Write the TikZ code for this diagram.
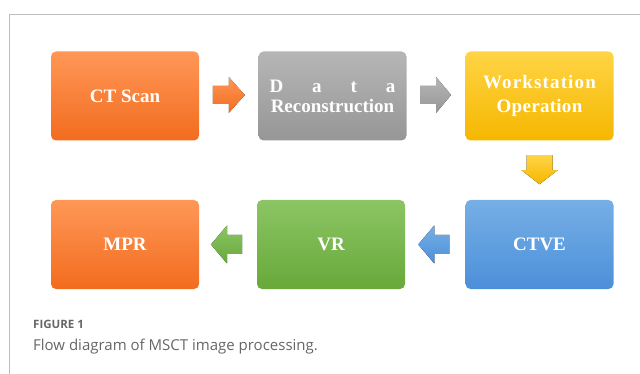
\documentclass[tikz,border=0pt]{standalone}
\usepackage{fontspec}
\setmainfont{Liberation Serif}
\newfontfamily\capfont{Open Sans}
\usetikzlibrary{calc}
\definecolor{frameC}{HTML}{BDBDBD}
\definecolor{orT}{HTML}{FF9757}
\definecolor{orB}{HTML}{F26C1E}
\definecolor{grT}{HTML}{B6B6B6}
\definecolor{grB}{HTML}{969696}
\definecolor{yeT}{HTML}{FFD445}
\definecolor{yeB}{HTML}{F5B700}
\definecolor{blT}{HTML}{76AFE6}
\definecolor{blB}{HTML}{4C8FD9}
\definecolor{gnT}{HTML}{8CC564}
\definecolor{gnB}{HTML}{68A93A}
\definecolor{capC}{HTML}{666666}
\tikzset{
  box/.style={rounded corners=5pt, minimum width=148pt, minimum height=89pt, inner sep=0pt,
    text=white, align=center, font=\fontsize{19}{24}\selectfont\bfseries},
  orfill/.style={top color=orT, bottom color=orB},
  grfill/.style={top color=grT, bottom color=grB},
  yefill/.style={top color=yeT, bottom color=yeB},
  blfill/.style={top color=blT, bottom color=blB},
  gnfill/.style={top color=gnT, bottom color=gnB},
}
\begin{document}
\begin{tikzpicture}[x=1pt,y=-1pt]
\useasboundingbox (0,0) rectangle (640,374);
\coordinate (fl) at (9,374);
\coordinate (fc) at (9,15);
\coordinate (fr) at (640,15);
\draw[frameC, line width=1pt] (fl) -- (fc) -- (fr);

\node[box, orfill] (ct) at (125,96) {CT Scan};
\node[box, grfill, font=\fontsize{19}{20}\selectfont\bfseries] (data) at (332.5,96) {\makebox[126pt][s]{D\hfill a\hfill t\hfill a}\\Reconstruction};
\node[box, yefill] (work) at (539.5,96) {{\addfontfeature{LetterSpace=6}Workstation}\\{\addfontfeature{LetterSpace=1.5}Operation}};
\node[box, blfill] (ctve) at (539.5,244.5) {CTVE};
\node[box, gnfill] (vr) at (331,244.5) {VR};
\node[box, orfill] (mpr) at (125,244.5) {MPR};

\coordinate (a1) at ($(ct.east)!0.5!(data.west)+(0,-1)$);
\coordinate (a2) at ($(data.east)!0.5!(work.west)+(0,-1)$);
\coordinate (a3) at ($(work.south)!0.5!(ctve.north)$);
\coordinate (a4) at ($(ctve.west)!0.5!(vr.east)+(-1,0)$);
\coordinate (a5) at ($(vr.west)!0.5!(mpr.east)+(-1,0)$);

\fill[orfill] ([shift={(-16,-9)}]a1) -- ([shift={(0,-9)}]a1) -- ([shift={(0,-18)}]a1) -- ([shift={(16,0)}]a1)
  -- ([shift={(0,18)}]a1) -- ([shift={(0,9)}]a1) -- ([shift={(-16,9)}]a1) -- cycle;
\fill[grfill] ([shift={(-16,-9)}]a2) -- ([shift={(0,-9)}]a2) -- ([shift={(0,-18)}]a2) -- ([shift={(15,0)}]a2)
  -- ([shift={(0,18)}]a2) -- ([shift={(0,9)}]a2) -- ([shift={(-16,9)}]a2) -- cycle;
\fill[yefill] ([shift={(-13,-15)}]a3) -- ([shift={(13,-15)}]a3) -- ([shift={(13,0)}]a3) -- ([shift={(18,0)}]a3)
  -- ([shift={(0,14)}]a3) -- ([shift={(-18,0)}]a3) -- ([shift={(-13,0)}]a3) -- cycle;
\fill[blfill] ([shift={(15,-9.5)}]a4) -- ([shift={(0,-9.5)}]a4) -- ([shift={(0,-19)}]a4) -- ([shift={(-16,0)}]a4)
  -- ([shift={(0,19)}]a4) -- ([shift={(0,9.5)}]a4) -- ([shift={(15,9.5)}]a4) -- cycle;
\fill[gnfill] ([shift={(15,-9.5)}]a5) -- ([shift={(0,-9.5)}]a5) -- ([shift={(0,-19)}]a5) -- ([shift={(-16,0)}]a5)
  -- ([shift={(0,19)}]a5) -- ([shift={(0,9.5)}]a5) -- ([shift={(15,9.5)}]a5) -- cycle;

\node[anchor=base west, inner sep=0pt, text=capC, font=\capfont\fontsize{11.5}{13}\selectfont\bfseries] (figlab) at (33,328) {FIGURE 1};
\node[anchor=base west, inner sep=0pt, text=capC, font=\capfont\fontsize{15}{17}\selectfont] (figcap) at (33,350) {Flow diagram of MSCT image processing.};
\end{tikzpicture}
\end{document}
